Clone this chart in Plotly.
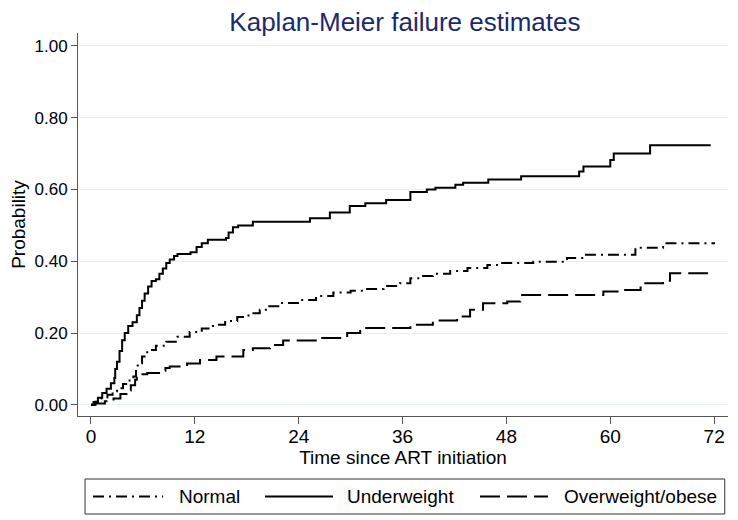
import plotly.graph_objects as go

# Kaplan-Meier failure estimates (step functions), time in months
uw_t = [0, 0.3, 0.8, 1.3, 1.8, 2.3, 2.7, 2.8, 3.0, 3.3, 3.6, 3.9, 4.3, 4.8, 5.3, 5.6, 5.9, 6.2,
        6.6, 7.0, 7.5, 7.9, 8.3, 8.7, 9.1, 9.6, 10.0, 11.5, 12.2, 12.8, 13.5, 15.6, 15.9, 16.4,
        17.0, 18.7, 25.3, 27.6, 29.9, 31.7, 34.1, 36.9, 38.8, 39.8, 42.1, 43.0, 45.9, 49.7,
        56.4, 56.9, 60.0, 60.4, 64.6, 71.6]
uw_p = [0, 0.008, 0.02, 0.033, 0.045, 0.06, 0.075, 0.10, 0.12, 0.15, 0.18, 0.20, 0.22, 0.23,
        0.25, 0.27, 0.29, 0.31, 0.33, 0.345, 0.35, 0.365, 0.38, 0.395, 0.405, 0.415, 0.42,
        0.425, 0.44, 0.45, 0.46, 0.465, 0.48, 0.495, 0.50, 0.51, 0.52, 0.536, 0.554, 0.562,
        0.571, 0.593, 0.60, 0.605, 0.613, 0.619, 0.628, 0.637, 0.65, 0.664, 0.682, 0.70,
        0.723, 0.723]

nm_t = [0, 0.5, 1.2, 1.9, 2.5, 3.0, 3.7, 4.3, 4.9, 5.2, 5.4, 5.9, 6.5, 7.5, 8.7, 10.0, 11.4,
        12.8, 14.1, 15.5, 16.9, 18.2, 19.5, 20.6, 21.8, 24.2, 26.0, 28.0, 30.0, 31.9, 33.8,
        35.7, 36.9, 38.2, 39.5, 41.5, 43.5, 45.8, 47.3, 51.1, 55.0, 56.9, 62.9, 66.1, 72.1]
nm_p = [0, 0.009, 0.018, 0.028, 0.038, 0.046, 0.058, 0.068, 0.079, 0.10, 0.116, 0.135, 0.153,
        0.165, 0.176, 0.19, 0.203, 0.213, 0.223, 0.234, 0.245, 0.255, 0.265, 0.275, 0.284,
        0.292, 0.303, 0.313, 0.318, 0.323, 0.331, 0.339, 0.353, 0.359, 0.365, 0.373, 0.381,
        0.39, 0.395, 0.399, 0.409, 0.418, 0.438, 0.45, 0.45]

ow_t = [0, 0.5, 1.6, 2.6, 3.4, 4.1, 4.6, 5.1, 5.3, 6.5, 8.0, 8.6, 9.1, 11.1, 12.6, 14.5, 17.6,
        18.7, 20.7, 22.2, 26.5, 29.6, 31.1, 36.9, 39.5, 42.3, 43.8, 45.3, 48.1, 49.6, 59.2,
        61.5, 63.5, 66.1, 66.9, 71.3]
ow_p = [0, 0.004, 0.01, 0.018, 0.03, 0.04, 0.055, 0.07, 0.085, 0.089, 0.095, 0.103, 0.107,
        0.115, 0.125, 0.135, 0.153, 0.158, 0.167, 0.179, 0.186, 0.2, 0.214, 0.223, 0.235,
        0.246, 0.265, 0.283, 0.288, 0.306, 0.316, 0.32, 0.339, 0.346, 0.367, 0.367]

series_names = ["Normal", "Underweight", "Overweight/obese"]
x_ticks = [0, 12, 24, 36, 48, 60, 72]
y_ticks = [0, 0.2, 0.4, 0.6, 0.8, 1.0]
y_ticklabels = ["0.00", "0.20", "0.40", "0.60", "0.80", "1.00"]

FONT = "Liberation Sans, Arial, sans-serif"
DASHES = ["11px,5px,2px,5px", "solid", "20px,7px"]
series = [(nm_t, nm_p), (uw_t, uw_p), (ow_t, ow_p)]

fig = go.Figure()
for (t, p), name, dash in zip(series, series_names, DASHES):
    fig.add_trace(go.Scatter(x=t, y=p, mode="lines", name=name, line_shape="hv",
                             line=dict(color="black", width=2, dash=dash),
                             showlegend=False))

# page body has an 8px margin, so the figure is laid out 8px up/left of the target pixels
fig.update_layout(
    width=738, height=520,
    margin=dict(l=70, r=18, t=25, b=112),
    paper_bgcolor="white", plot_bgcolor="white",
    font=dict(family=FONT, color="black", size=18),
    title=dict(text="Kaplan-Meier failure estimates", x=0.503, xref="paper", xanchor="center",
               y=0.991, yanchor="top", pad=dict(t=0, b=0),
               font=dict(size=26, color="#1b2a6b", family=FONT)),
    showlegend=False,
)

# legend box drawn below the plot (paper coordinates)
fig.add_shape(type="rect", xref="paper", yref="paper", x0=0.0108, x1=0.995, y0=-0.2559,
              y1=-0.1645, line=dict(color="#333", width=1), fillcolor="rgba(0,0,0,0)")
leg_y = -0.2102
sym_x = [(0.0231, 0.1308), (0.2877, 0.3923), (0.6185, 0.7231)]
txt_x = [0.1523, 0.4108, 0.7446]
for (x0, x1), tx, name, dash in zip(sym_x, txt_x, series_names, DASHES):
    fig.add_shape(type="line", xref="paper", yref="paper", x0=x0, x1=x1, y0=leg_y, y1=leg_y,
                  line=dict(color="black", width=2, dash=dash))
    fig.add_annotation(text=name, xref="paper", yref="paper", x=tx, y=leg_y, xanchor="left",
                       yanchor="middle", showarrow=False, font=dict(size=19, family=FONT))

fig.update_xaxes(range=[-1.5, 73.6], tickvals=x_ticks, ticks="outside", ticklen=7,
                 tickcolor="#555", showline=True, linecolor="#555", linewidth=1,
                 showgrid=False, zeroline=False, tickfont=dict(size=19), automargin=False,
                 ticklabelstandoff=-4,
                 title=dict(text="Time since ART initiation", font=dict(size=19), standoff=0))
fig.update_yaxes(range=[-0.031, 1.036], tickvals=y_ticks, ticktext=y_ticklabels,
                 ticks="outside", ticklen=6, tickcolor="#555", showline=True, linecolor="#555",
                 linewidth=1, showgrid=True, gridcolor="#e6f1f1", gridwidth=1, zeroline=False,
                 tickfont=dict(size=17), automargin=False,
                 title=dict(text="Probability", font=dict(size=19), standoff=10))

fig.write_html("out.html")
